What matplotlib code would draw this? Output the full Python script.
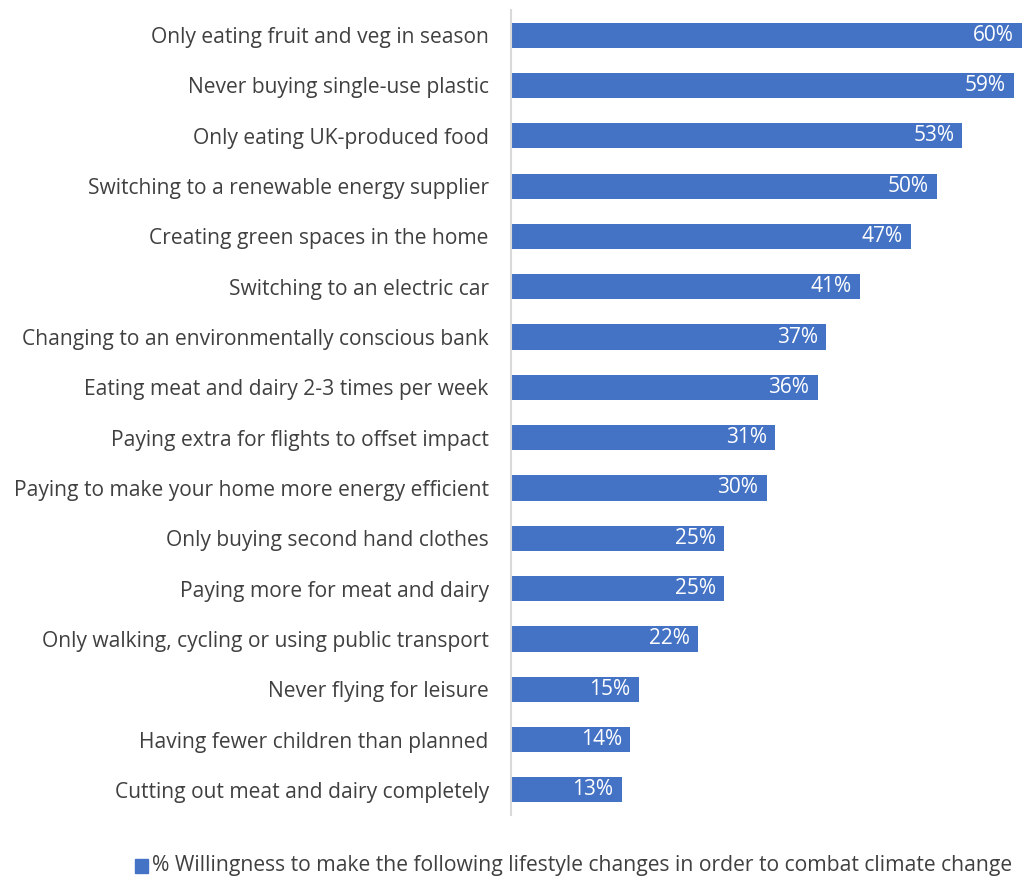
import matplotlib.pyplot as plt
from matplotlib.patches import Rectangle

categories = [
    "Only eating fruit and veg in season",
    "Never buying single-use plastic",
    "Only eating UK-produced food",
    "Switching to a renewable energy supplier",
    "Creating green spaces in the home",
    "Switching to an electric car",
    "Changing to an environmentally conscious bank",
    "Eating meat and dairy 2-3 times per week",
    "Paying extra for flights to offset impact",
    "Paying to make your home more energy efficient",
    "Only buying second hand clothes",
    "Paying more for meat and dairy",
    "Only walking, cycling or using public transport",
    "Never flying for leisure",
    "Having fewer children than planned",
    "Cutting out meat and dairy completely",
]
values = [60, 59, 53, 50, 47, 41, 37, 36, 31, 30, 25, 25, 22, 15, 14, 13]
series_name = "% Willingness to make the following lifestyle changes in order to combat climate change"

BLUE = "#4472C4"
TEXT = "#404040"
plt.rcParams["font.family"] = ["Open Sans", "DejaVu Sans"]

fig = plt.figure(figsize=(10.24, 8.76), dpi=100)
ax = fig.add_axes([0.499, 0.0696, 0.5, 0.919])

ypos = list(range(len(categories)))
ax.barh(ypos, values, height=0.5, color=BLUE)
ax.set_ylim(len(categories) - 0.5, -0.5)
ax.set_xlim(0, 60.1)

for y, v in zip(ypos, values):
    ax.annotate(f"{v}%", (v, y), xytext=(-6, 0), textcoords="offset points",
                ha="right", va="center", color="white", fontsize=15)

ax.set_yticks(ypos)
ax.set_yticklabels(categories, fontsize=15.1, color=TEXT)
ax.tick_params(axis="y", length=0, pad=16)
ax.set_xticks([])
for side in ["top", "right", "bottom"]:
    ax.spines[side].set_visible(False)
ax.spines["left"].set_color("#D9D9D9")
ax.spines["left"].set_linewidth(1.5)

# legend along the bottom edge
fig.patches.append(Rectangle((135 / 1024, 1 - 873 / 876), 13 / 1024, 14 / 876,
                             transform=fig.transFigure, color=BLUE))
fig.text(152 / 1024, 1 - 866 / 876, series_name, fontsize=15.2, color=TEXT,
         va="center", ha="left")

fig.savefig("out.png", dpi=100)
